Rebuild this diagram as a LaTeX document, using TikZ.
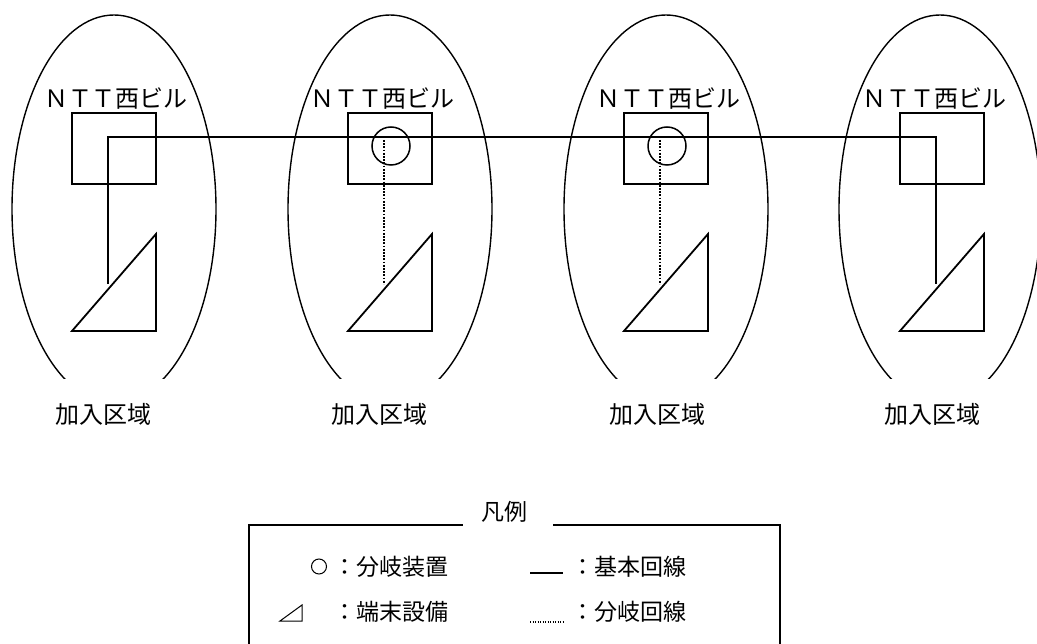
\documentclass[tikz,border=0pt]{standalone}
\usepackage{fontspec}
\newfontfamily\jp{Noto Sans CJK JP}
\begin{document}
\begin{tikzpicture}[x=1pt,y=-1pt,
  area/.style={line width=1.4pt},
  bldg/.style={draw,line width=1.8pt,rectangle,minimum width=84pt,minimum height=71pt,inner sep=0pt},
  splitter/.style={draw,line width=1.5pt,circle,minimum size=38pt,inner sep=0pt},
  term/.style={line width=1.8pt,line join=miter},
  basic/.style={line width=1.8pt},
  branch/.style={line width=1.6pt,dash pattern=on 1.8pt off 1.4pt},
  lbl/.style={font=\jp\fontsize{24pt}{28pt}\selectfont,inner sep=0pt},
  leg/.style={font=\jp\fontsize{23pt}{27pt}\selectfont,inner sep=0pt},
  frame/.style={line width=1.5pt}]
\useasboundingbox (0,0) rectangle (1037,644);

% subscriber areas (ellipses, cut at bottom)
\begin{scope}
  \clip (0,0) rectangle (1037,379);
  \draw[area] (114,209) ellipse [x radius=102, y radius=194];
  \draw[area] (390,209) ellipse [x radius=102, y radius=194];
  \draw[area] (666,209) ellipse [x radius=102, y radius=194];
  \draw[area] (940,209) ellipse [x radius=101, y radius=194];
\end{scope}

% building labels
\node[lbl] (n1) at (116,99) {ＮＴＴ西ビル};
\node[lbl] (n2) at (382,99) {ＮＴＴ西ビル};
\node[lbl] (n3) at (668,99) {ＮＴＴ西ビル};
\node[lbl] (n4) at (934,99) {ＮＴＴ西ビル};

% buildings
\node[bldg] (b1) at (114,148.5) {};
\node[bldg] (b2) at (390,148.5) {};
\node[bldg] (b3) at (666,148.5) {};
\node[bldg] (b4) at (942,148.5) {};

% branching devices
\node[splitter] (s2) at (391,146) {};
\node[splitter] (s3) at (667,146) {};

% terminal equipment (triangles)
\draw[term] (72,331) -- (156,234) -- (156,331) -- cycle;
\draw[term] (348,331) -- (432,234) -- (432,331) -- cycle;
\draw[term] (624,331) -- (708,234) -- (708,331) -- cycle;
\draw[term] (900,331) -- (984,234) -- (984,331) -- cycle;

% connection points
\coordinate (d1) at (108,284);
\coordinate (c1) at (108,137);
\coordinate (c4) at (936,137);
\coordinate (d4) at (936,284);
\coordinate (e2) at (384,140);
\coordinate (f2) at (384,284);
\coordinate (e3) at (660,140);
\coordinate (f3) at (660,284);

% basic line
\draw[basic] (d1) -- (c1) -- (c4) -- (d4);
% branch lines
\draw[branch] (e2) -- (f2);
\draw[branch] (e3) -- (f3);

% area labels
\node[lbl] (a1) at (104,414) {加入区域};
\node[lbl] (a2) at (379,414) {加入区域};
\node[lbl] (a3) at (657,414) {加入区域};
\node[lbl] (a4) at (932,414) {加入区域};

% legend
\node[leg] (lt) at (504,512) {凡例};
\coordinate (k1) at (249,644);
\coordinate (k2) at (249,525);
\coordinate (k3) at (463,525);
\coordinate (k4) at (553,525);
\coordinate (k5) at (780,525);
\coordinate (k6) at (780,644);
\draw[frame] (k1) -- (k2) -- (k3);
\draw[frame] (k4) -- (k5) -- (k6);

\node[draw,circle,line width=1pt,minimum size=15pt,inner sep=0pt] (lc) at (319,566.5) {};
\node[leg,anchor=west] (l1) at (333,567) {：分岐装置};
\draw[line width=1pt] (280,621) -- (302,605) -- (302,621) -- cycle;
\node[leg,anchor=west] (l2) at (333,612) {：端末設備};
\coordinate (m1) at (530,573);
\coordinate (m2) at (563,573);
\draw[basic] (m1) -- (m2);
\node[leg,anchor=west] (l3) at (571.5,567) {：基本回線};
\coordinate (m3) at (530,622);
\coordinate (m4) at (563,622);
\draw[line width=1.2pt,dash pattern=on 1.2pt off 1.3pt] (m3) -- (m4);
\node[leg,anchor=west] (l4) at (571.5,612) {：分岐回線};
\end{tikzpicture}
\end{document}
